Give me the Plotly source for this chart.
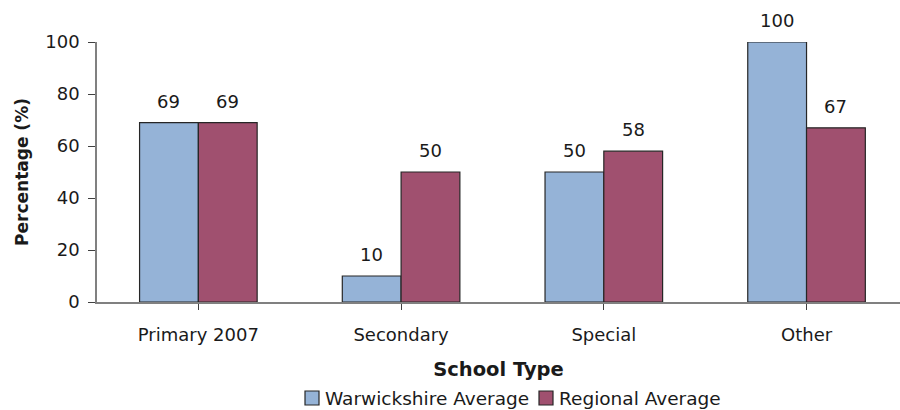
import plotly.graph_objects as go

# School type results (percentage)
categories = ["Primary 2007", "Secondary", "Special", "Other"]
warwickshire = [69, 10, 50, 100]
regional = [69, 50, 58, 67]
series_names = ["Warwickshire Average", "Regional Average"]
y_ticks = [0, 20, 40, 60, 80, 100]

FONT = "DejaVu Sans, Liberation Sans, Arial, sans-serif"
TEXT = "#1a1a1a"
AXIS = "#808080"
BLUE = "#95B3D7"
MAROON = "#A0506F"
OUTLINE = "#262626"
colors = [BLUE, MAROON]

BARGAP = 0.42
bar_w = (1 - BARGAP) / 2

# plot area in page pixels, used to place the hand-drawn legend
L, R, T, B = 97, 900, 42, 302


def px_x(px):
    return (px - L) / (R - L)


def px_y(py):
    return (B - py) / (B - T)


x_idx = list(range(len(categories)))

fig = go.Figure()
for name, vals, col in zip(series_names, [warwickshire, regional], colors):
    fig.add_trace(go.Bar(
        x=x_idx, y=vals, name=name,
        marker=dict(color=col, line=dict(color=OUTLINE, width=1.2)),
    ))

# value labels above each bar
for k, vals in enumerate([warwickshire, regional]):
    off = (-0.5 + k) * bar_w
    for i, v in enumerate(vals):
        fig.add_annotation(
            x=i + off, y=v, xref="x", yref="y", text=str(v),
            showarrow=False, yanchor="bottom", yshift=9,
            font=dict(family=FONT, size=18, color=TEXT),
        )

# legend: outlined swatch followed by the series name
legend_items = [(305, 323), (539, 557)]
for (sx, tx), name, col in zip(legend_items, series_names, colors):
    fig.add_shape(
        type="rect", xref="paper", yref="paper",
        x0=px_x(sx), x1=px_x(sx + 14), y0=px_y(391), y1=px_y(405),
        fillcolor=col, line=dict(color=OUTLINE, width=1.2),
    )
    fig.add_annotation(
        x=px_x(tx), y=px_y(398), xref="paper", yref="paper",
        text=name, showarrow=False, xanchor="left", yanchor="middle",
        font=dict(family=FONT, size=18.5, color=TEXT),
    )

fig.update_layout(
    width=900, height=410,
    margin=dict(l=L, r=900 - R, t=T, b=410 - B, autoexpand=False),
    paper_bgcolor="white", plot_bgcolor="white",
    barmode="group", bargap=BARGAP, bargroupgap=0,
    font=dict(family=FONT, size=18, color=TEXT),
    showlegend=False,
)

fig.update_xaxes(
    range=[-0.5, 3.461],
    tickmode="array", tickvals=x_idx, ticktext=categories,
    tickson="boundaries", ticks="outside", ticklen=6, tickcolor="#404040",
    ticklabelstandoff=10,
    showline=True, linecolor=AXIS, linewidth=1.5,
    showgrid=False, zeroline=False,
    tickfont=dict(family=FONT, size=18, color=TEXT),
    title=dict(text="<b>School Type</b>", standoff=18,
               font=dict(family=FONT, size=19.5, color=TEXT)),
)

fig.update_yaxes(
    range=[0, 100], tickvals=y_ticks,
    ticks="outside", ticklen=7, tickcolor="#404040",
    ticklabelstandoff=5,
    showline=True, linecolor=AXIS, linewidth=1.5,
    showgrid=False, zeroline=False,
    tickfont=dict(family=FONT, size=18, color=TEXT),
    title=dict(text="<b>Percentage (%)</b>", standoff=12,
               font=dict(family=FONT, size=17, color=TEXT)),
)

fig.write_html("out.html")
